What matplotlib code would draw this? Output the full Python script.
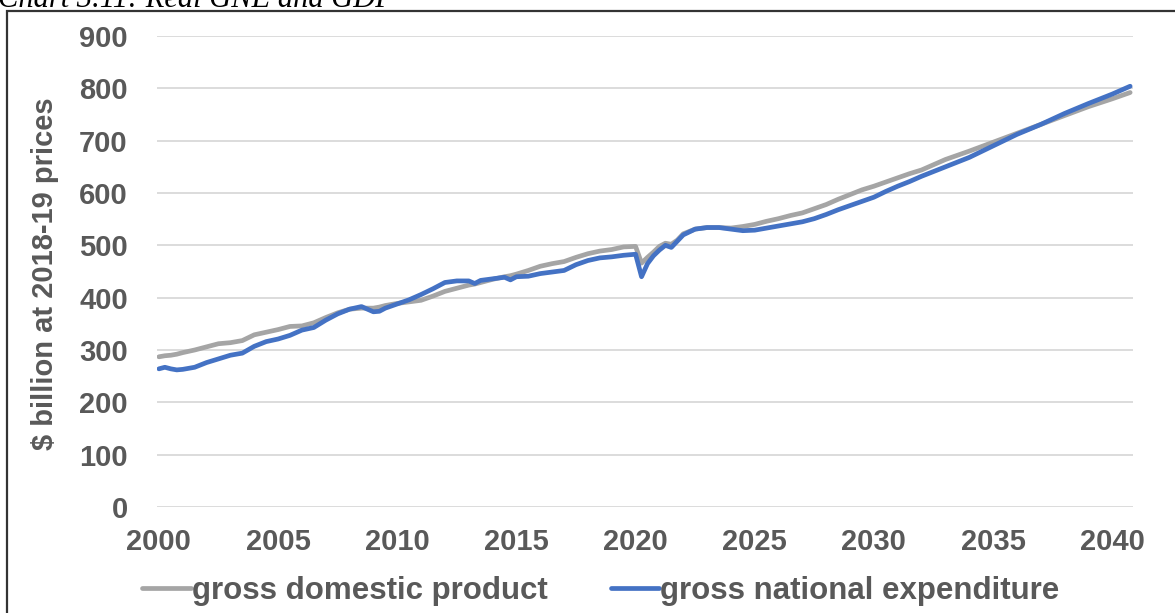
import matplotlib
matplotlib.use("Agg")
import matplotlib.pyplot as plt
from matplotlib.patches import Rectangle

# Quarterly-dated observations and projections, $ billion at 2018-19 prices
dates = [2000.0, 2000.25, 2000.5, 2000.75, 2001.0, 2001.5, 2002.0, 2002.5, 2003.0, 2003.5,
         2004.0, 2004.5, 2005.0, 2005.5, 2006.0, 2006.5, 2007.0, 2007.5, 2008.0, 2008.5,
         2009.0, 2009.25, 2009.5, 2010.0, 2010.5, 2011.0, 2011.5, 2012.0, 2012.5, 2013.0,
         2013.25, 2013.5, 2014.0, 2014.5, 2014.75, 2015.0, 2015.5, 2016.0, 2016.5, 2017.0,
         2017.5, 2018.0, 2018.5, 2019.0, 2019.5, 2020.0, 2020.25, 2020.5, 2020.75, 2021.0,
         2021.25, 2021.5, 2021.75, 2022.0, 2022.5, 2023.0, 2023.5, 2024.0, 2024.5, 2025.0,
         2025.5, 2026.0, 2026.5, 2027.0, 2027.5, 2028.0, 2028.5, 2029.0, 2029.5, 2030.0,
         2030.5, 2031.0, 2031.5, 2032.0, 2033.0, 2034.0, 2035.0, 2036.0, 2037.0, 2038.0,
         2039.0, 2040.0, 2040.75]

gdp = [287, 289, 290, 292, 295, 300, 306, 312, 314, 318,
       329, 334, 339, 345, 346, 352, 362, 371, 378, 380,
       380, 382, 385, 389, 392, 395, 403, 412, 418, 424,
       426, 429, 435, 440, 442, 445, 452, 460, 465, 469,
       477, 484, 489, 492, 497, 498, 466, 477, 487, 498,
       504, 502, 510, 522, 531, 534, 534, 533, 536, 540,
       546, 551, 557, 562, 570, 578, 588, 597, 606, 613,
       621, 629, 637, 644, 664, 680, 697, 714, 731, 748,
       765, 780, 792]

gne = [264, 267, 264, 262, 263, 267, 276, 283, 290, 294,
       307, 316, 321, 328, 338, 343, 357, 369, 378, 383,
       373, 374, 380, 388, 396, 406, 417, 429, 432, 432,
       427, 433, 436, 439, 434, 440, 441, 446, 449, 452,
       463, 471, 476, 478, 481, 483, 440, 465, 480, 491,
       500, 496, 508, 520, 531, 534, 534, 531, 528, 529,
       533, 537, 541, 545, 551, 559, 568, 576, 584, 592,
       603, 613, 622, 632, 650, 668, 690, 712, 731, 752,
       771, 789, 804]

year_ticks = [2000, 2005, 2010, 2015, 2020, 2025, 2030, 2035, 2040]
value_ticks = [0, 100, 200, 300, 400, 500, 600, 700, 800, 900]

W, H = 1175, 613
fig = plt.figure(figsize=(W / 100, H / 100), dpi=100)
ax = fig.add_axes([157 / W, 1 - 507 / H, (1133 - 157) / W, (507 - 36) / H])

ax.plot(dates, gdp, color="#a5a5a5", lw=3.4, label="gross domestic product", solid_capstyle="round")
ax.plot(dates, gne, color="#4472c4", lw=3.4, label="gross national expenditure", solid_capstyle="round")

ax.set_xlim(1999.92, 2040.87)
ax.set_ylim(0, 900)
ax.set_xticks(year_ticks)
ax.set_yticks(value_ticks)
ax.grid(axis="y", color="#d9d9d9", lw=1.3)
ax.set_axisbelow(True)
for s in ax.spines.values():
    s.set_visible(False)

FP = matplotlib.font_manager.FontProperties
tick_font = dict(family="Liberation Sans", weight="bold", size=21)
ax.tick_params(length=0, colors="#595959")
ax.tick_params(axis="y", pad=21)
ax.tick_params(axis="x", pad=15)
for lab in ax.get_xticklabels() + ax.get_yticklabels():
    lab.set_fontproperties(FP(**tick_font))

fig.text(45 / W, 1 - 274 / H, "$ billion at 2018-19 prices", rotation=90,
         ha="center", va="center", color="#595959", **tick_font)

leg = fig.legend(loc="center", bbox_to_anchor=(601 / W, 1 - 591 / H), ncol=2, frameon=False,
                 prop=FP(family="Liberation Sans", weight="bold", size=22.5), labelcolor="#595959",
                 handlelength=1.55, handletextpad=0.05, columnspacing=2.0)

# chart frame and caption
fig.patches.append(Rectangle((7 / W, -0.1), 1.2, 1 - 11 / H + 0.1, transform=fig.transFigure,
                             fill=False, edgecolor="#333333", lw=1.6))
fig.text(-2 / W, 1 - 7 / H, "Chart 3.11: Real GNE and GDP", ha="left", va="baseline",
         family="Liberation Serif", style="italic", size=22, color="black")

fig.savefig("out.png", dpi=100)
